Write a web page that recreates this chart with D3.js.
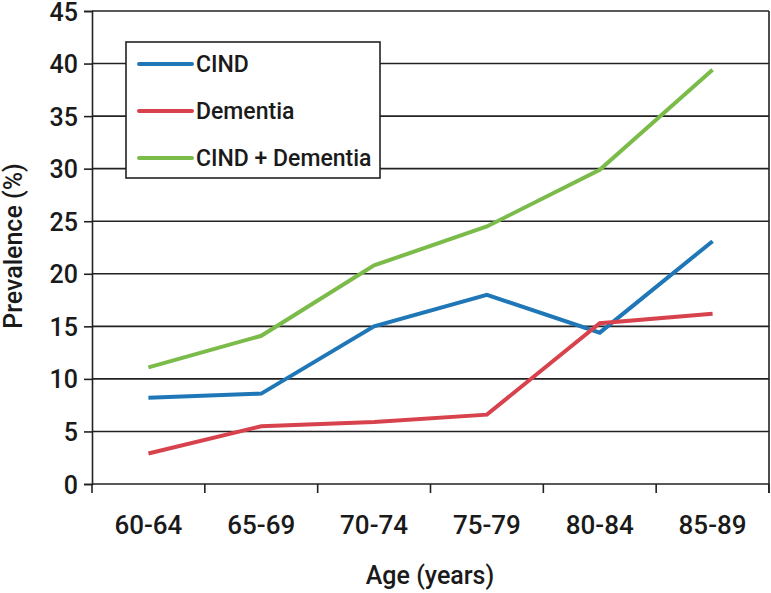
<!DOCTYPE html>
<html>
<head>
<meta charset="utf-8">
<script src="https://cdn.jsdelivr.net/npm/d3@7"></script>
<style>
  body { margin: 0; background: #fff; }
  text { font-family: Roboto, "Liberation Sans", Arial, sans-serif; font-weight: 500; fill: #1a1a1a; }
</style>
</head>
<body>
<div id="chart"></div>
<script>
// donnees
var ages = ["60-64", "65-69", "70-74", "75-79", "80-84", "85-89"];
var cind = [8.2, 8.6, 15.0, 18.0, 14.4, 23.1];
var dementia = [2.9, 5.5, 5.9, 6.6, 15.3, 16.2];
var cindDementia = [11.1, 14.1, 20.8, 24.5, 29.9, 39.4];
var yTicks = [0, 5, 10, 15, 20, 25, 30, 35, 40, 45];
var seriesNames = ["CIND", "Dementia", "CIND + Dementia"];
var seriesColors = ["#1f77b8", "#d7424c", "#7bbb4a"];

var W = 771, H = 593;
var margin = { top: 11, right: 2, bottom: 109, left: 92 };
var width = W - margin.left - margin.right,
    height = H - margin.top - margin.bottom;

var svg = d3.select("#chart").append("svg")
    .attr("width", W)
    .attr("height", H);

var g = svg.append("g").attr("transform", "translate(" + margin.left + "," + margin.top + ")");

var x = d3.scaleBand().domain(ages).range([0, width]);
var y = d3.scaleLinear().domain([0, 45]).range([height, 0]);

// lignes de grille
g.selectAll(".grid").data(yTicks.filter(function(d) { return d > 0; }))
    .enter().append("line")
    .attr("x1", 0).attr("x2", width)
    .attr("y1", function(d) { return y(d); })
    .attr("y2", function(d) { return y(d); })
    .attr("stroke", "#222").attr("stroke-width", 1.6);

// bordure droite
g.append("line")
    .attr("x1", width).attr("x2", width)
    .attr("y1", 0).attr("y2", height + 9)
    .attr("stroke", "#222").attr("stroke-width", 1.6);

// axe y
var yAxis = g.append("g")
    .call(d3.axisLeft(y).tickValues(yTicks).tickSize(8).tickPadding(6));
yAxis.select(".domain").attr("stroke", "#222").attr("stroke-width", 1.6);
yAxis.selectAll(".tick line").attr("stroke", "#222").attr("stroke-width", 1.6);
yAxis.selectAll(".tick text")
    .attr("font-family", null)
    .style("font-size", "25px")
    .attr("dy", "0.36em");

// axe x : graduations aux limites des bandes
var bounds = ages.map(function(d) { return x(d); }).concat([width]);
g.append("line")
    .attr("x1", 0).attr("x2", width)
    .attr("y1", height).attr("y2", height)
    .attr("stroke", "#222").attr("stroke-width", 1.6);
g.selectAll(".xtick").data(bounds).enter().append("line")
    .attr("x1", function(d) { return d; }).attr("x2", function(d) { return d; })
    .attr("y1", height).attr("y2", height + 9)
    .attr("stroke", "#222").attr("stroke-width", 1.6);
g.selectAll(".xlab").data(ages).enter().append("text")
    .attr("x", function(d) { return x(d) + x.bandwidth() / 2; })
    .attr("y", height + 50)
    .attr("text-anchor", "middle")
    .style("font-size", "26px")
    .text(function(d) { return d; });

// courbes
var line = d3.line()
    .x(function(d, i) { return x(ages[i]) + x.bandwidth() / 2; })
    .y(function(d) { return y(d); });

[cind, dementia, cindDementia].forEach(function(s, k) {
    g.append("path")
        .datum(s)
        .attr("d", line)
        .attr("fill", "none")
        .attr("stroke", seriesColors[k])
        .attr("stroke-width", 4)
        .attr("stroke-linejoin", "miter");
});

// legende
var leg = svg.append("g").attr("transform", "translate(126,42)");
leg.append("rect")
    .attr("width", 254).attr("height", 136)
    .attr("fill", "#fff").attr("stroke", "#222").attr("stroke-width", 1.6);
seriesNames.forEach(function(n, k) {
    var yy = 22 + k * 47;
    leg.append("line")
        .attr("x1", 13).attr("x2", 66)
        .attr("y1", yy).attr("y2", yy)
        .attr("stroke", seriesColors[k]).attr("stroke-width", 4)
        .attr("stroke-linecap", "round");
    leg.append("text")
        .attr("x", 70).attr("y", yy + 8)
        .style("font-size", "23px")
        .text(n);
});

// titres des axes
svg.append("text")
    .attr("transform", "translate(22,246) rotate(-90)")
    .attr("text-anchor", "middle")
    .style("font-size", "25px")
    .text("Prevalence (%)");
svg.append("text")
    .attr("x", 430).attr("y", 584)
    .attr("text-anchor", "middle")
    .style("font-size", "25px")
    .text("Age (years)");
</script>
</body>
</html>
